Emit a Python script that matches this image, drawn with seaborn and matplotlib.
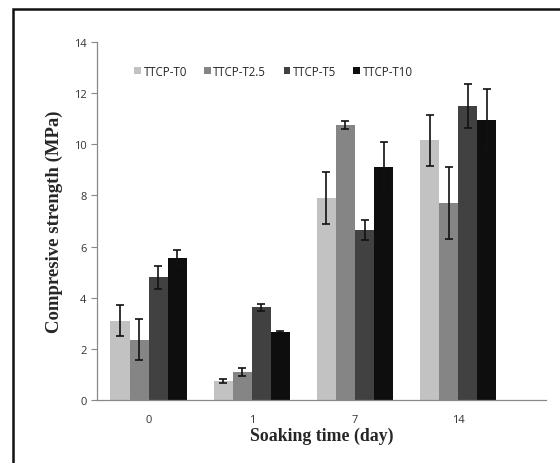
import matplotlib
matplotlib.use("Agg")
import matplotlib.pyplot as plt
import seaborn as sns
import pandas as pd
import numpy as np
from matplotlib.patches import Rectangle

days = ["0", "1", "7", "14"]
groups = ["TTCP-T0", "TTCP-T2.5", "TTCP-T5", "TTCP-T10"]
t0 = [3.1, 0.75, 7.9, 10.15]
t25 = [2.35, 1.1, 10.75, 7.7]
t5 = [4.8, 3.62, 6.65, 11.5]
t10 = [5.55, 2.65, 9.1, 10.95]
e_t0 = [0.6, 0.08, 1.0, 1.0]
e_t25 = [0.8, 0.17, 0.15, 1.4]
e_t5 = [0.45, 0.13, 0.4, 0.85]
e_t10 = [0.3, 0.03, 1.0, 1.2]
yticks = [0, 2, 4, 6, 8, 10, 12, 14]
colors = ["#c2c2c2", "#858585", "#414141", "#0e0e0e"]

vals = [t0, t25, t5, t10]
errs = [e_t0, e_t25, e_t5, e_t10]
rows = []
for g, v, e in zip(groups, vals, errs):
    for d, vi, ei in zip(days, v, e):
        rows.append({"day": d, "group": g, "value": vi, "err": ei})
df = pd.DataFrame(rows)

sns.set_style("white")
plt.rcParams["font.family"] = ["Open Sans", "DejaVu Sans"]

fig = plt.figure(figsize=(5.6, 4.64), dpi=100)
ax = fig.add_axes([0.1732, 0.1358, 0.8018, 0.7715])
sns.barplot(data=df, x="day", y="value", hue="group", order=days, hue_order=groups,
            palette=colors, width=0.74, gap=0, errorbar=None, ax=ax, saturation=1,
            edgecolor="none", linewidth=0)

# error bars from bar patches
for gi, g in enumerate(groups):
    cont = ax.containers[gi]
    xs = [p.get_x() + p.get_width() / 2 for p in cont.patches]
    ys = [p.get_height() for p in cont.patches]
    ax.errorbar(xs, ys, yerr=errs[gi], fmt="none", ecolor="#111111",
                elinewidth=1.2, capsize=3, capthick=1.2, zorder=5)

ax.set_ylim(0, 14)
ax.set_xlim(-0.5, 3.85)
ax.set_yticks(yticks)
ax.set_yticklabels([str(t) for t in yticks], fontsize=8, color="#333333")
ax.set_xticks(range(len(days)))
ax.set_xticklabels(days, fontsize=8, color="#333333")
ax.tick_params(axis="x", which="major", length=0, pad=10)
ax.set_xticks([0.5, 1.5, 2.5, 3.5], minor=True)
ax.tick_params(axis="x", which="minor", length=4, width=0.8, color="#888888", direction="out")
ax.tick_params(axis="y", length=4, width=0.8, color="#888888", direction="out", left=True)
for s in ["top", "right"]:
    ax.spines[s].set_visible(False)
for s in ["left", "bottom"]:
    ax.spines[s].set_color("#888888")
    ax.spines[s].set_linewidth(0.9)

ax.set_xlabel("Soaking time (day)", fontsize=12.8, fontweight="bold",
              family=["Liberation Serif", "DejaVu Serif"], labelpad=1)
ax.set_ylabel("Compresive strength (MPa)", fontsize=13.5, fontweight="bold",
              family=["Liberation Serif", "DejaVu Serif"], labelpad=8)

leg = ax.legend(loc="upper left", bbox_to_anchor=(0.06, 0.965), ncol=4, frameon=False,
                fontsize=8.3, handlelength=0.55, handleheight=0.55, handletextpad=0.25,
                columnspacing=1.5)

# outer frame of the figure (left and top visible)
fig.patches.append(Rectangle((13 / 560, -0.05), 1.2, 1 - 9.5 / 464 + 0.05,
                             transform=fig.transFigure, fill=False,
                             edgecolor="#111111", linewidth=1.8, zorder=10))

fig.savefig("out.png", dpi=100)
